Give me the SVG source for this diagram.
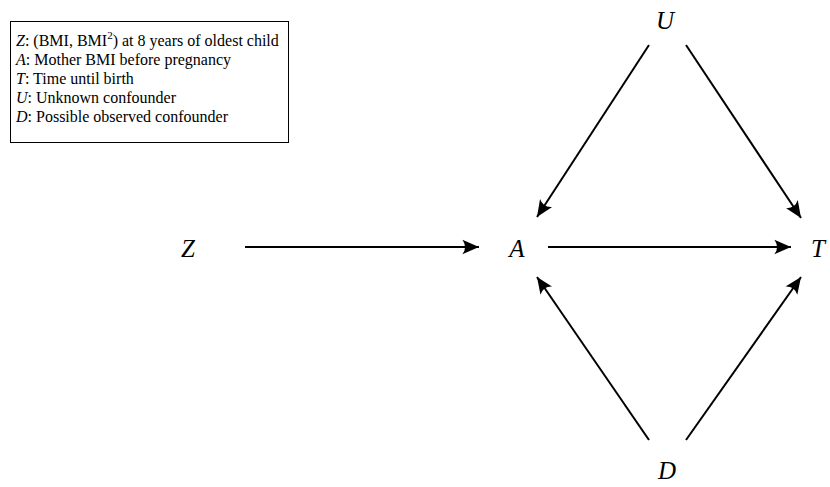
<svg xmlns="http://www.w3.org/2000/svg" width="830" height="487" viewBox="0 0 830 487">
<style>
.bg{fill:#ffffff}
.leg{font-family:"Liberation Serif","DejaVu Serif",serif;font-size:16px;fill:#000}
.legi{font-style:italic}
.node{font-family:"Liberation Serif","DejaVu Serif",serif;font-style:italic;font-size:25px;fill:#000;text-anchor:middle;dominant-baseline:central}
.edge{stroke:#000;stroke-width:2;fill:none;marker-end:url(#ah)}
.box{fill:none;stroke:#000;stroke-width:1}
</style>
<defs>
<marker id="ah" markerUnits="userSpaceOnUse" markerWidth="20" markerHeight="20" viewBox="-16 -8 18 16" refX="0" refY="0" orient="auto">
<path d="M0,0 L-15,-6.5 Q-10,0 -15,6.5 Z" fill="#000"/>
</marker>
</defs>
<rect class="bg" x="0" y="0" width="830" height="487"/>
<g id="legend">
<rect class="box" x="10.5" y="21.5" width="278" height="121"/>
<text class="leg" x="16" y="46"><tspan class="legi">Z</tspan>: (BMI, BMI<tspan font-size="11" dy="-7">2</tspan><tspan dy="7">) at 8 years of oldest child</tspan></text>
<text class="leg" x="16" y="65"><tspan class="legi">A</tspan>: Mother BMI before pregnancy</text>
<text class="leg" x="16" y="84"><tspan class="legi">T</tspan>: Time until birth</text>
<text class="leg" x="16" y="103"><tspan class="legi">U</tspan>: Unknown confounder</text>
<text class="leg" x="16" y="122"><tspan class="legi">D</tspan>: Possible observed confounder</text>
</g>
<g id="connectors">
<line class="edge" x1="245" y1="247" x2="479" y2="247"/>
<line class="edge" x1="548" y1="247" x2="791" y2="247"/>
<line class="edge" x1="649" y1="45" x2="537" y2="217"/>
<line class="edge" x1="686" y1="45" x2="801" y2="218"/>
<line class="edge" x1="649" y1="440" x2="537" y2="277"/>
<line class="edge" x1="686" y1="440" x2="801" y2="277"/>
</g>
<g id="node-Z"><text class="node" x="188" y="248">Z</text></g>
<g id="node-A"><text class="node" x="517" y="248">A</text></g>
<g id="node-T"><text class="node" x="818" y="248">T</text></g>
<g id="node-U"><text class="node" x="665" y="20">U</text></g>
<g id="node-D"><text class="node" x="667" y="470">D</text></g>
</svg>
